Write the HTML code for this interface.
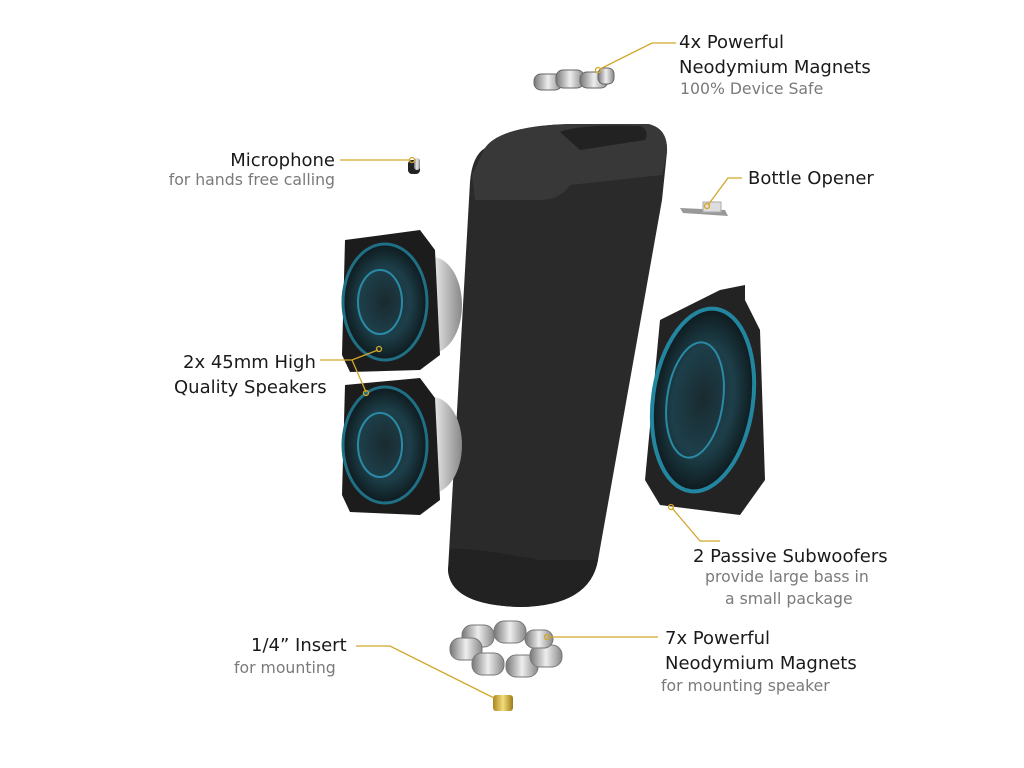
<!DOCTYPE html>
<html><head><meta charset="utf-8"><style>
body{margin:0;background:#fff;}
.wrap{position:relative;width:1024px;height:768px;overflow:hidden;font-family:"DejaVu Sans","Liberation Sans",sans-serif;}
.t{position:absolute;font-size:18px;color:#1a1a1a;white-space:nowrap;line-height:1;}
.g{color:#7a7a7a;font-size:15.7px;}
</style></head><body><div class="wrap">
<svg width="1024" height="768" style="position:absolute;left:0;top:0">
<defs>
<radialGradient id="cone" cx="50%" cy="50%" r="50%"><stop offset="0" stop-color="#1a2a30"/><stop offset="0.6" stop-color="#1d3f4a"/><stop offset="1" stop-color="#0e1a1e"/></radialGradient>
<linearGradient id="met" x1="0" x2="1"><stop offset="0" stop-color="#777"/><stop offset="0.5" stop-color="#eee"/><stop offset="1" stop-color="#888"/></linearGradient>
<linearGradient id="gold" x1="0" x2="1"><stop offset="0" stop-color="#a8871e"/><stop offset="0.5" stop-color="#f3dc7a"/><stop offset="1" stop-color="#9c7c18"/></linearGradient>
</defs>
<path d="M485,148 Q500,126 570,124 L648,124 Q668,128 667,152 L662,200 L598,560 Q590,606 520,607 Q450,605 448,570 L470,182 Q472,156 485,148 Z" fill="#2a2a2a"/>
<path d="M485,148 Q500,126 570,124 L648,124 Q668,128 667,152 L662,175 L570,185 Q560,200 540,200 L475,200 L472,175 Z" fill="#383838"/>
<path d="M560,132 Q580,124 640,126 Q650,130 645,140 L580,150 Z" fill="#222"/>
<path d="M450,550 Q460,545 540,560 L598,560 Q590,606 520,607 Q450,605 448,570 Z" fill="#222"/>
<g>
<ellipse cx="432" cy="305" rx="30" ry="48" fill="url(#met)"/>
<path d="M345,240 L420,230 L435,250 L440,355 L420,370 L350,372 L342,355 Z" fill="#1c1c1c"/>
<ellipse cx="385" cy="302" rx="42" ry="58" fill="url(#cone)" stroke="#1f6f85" stroke-width="3"/>
<ellipse cx="380" cy="302" rx="22" ry="32" fill="none" stroke="#2a8aa5" stroke-width="2"/>
<ellipse cx="432" cy="445" rx="30" ry="48" fill="url(#met)"/>
<path d="M345,385 L420,378 L435,398 L440,500 L420,515 L350,512 L342,495 Z" fill="#1c1c1c"/>
<ellipse cx="385" cy="445" rx="42" ry="58" fill="url(#cone)" stroke="#1f6f85" stroke-width="3"/>
<ellipse cx="380" cy="445" rx="22" ry="32" fill="none" stroke="#2a8aa5" stroke-width="2"/>
</g>
<path d="M720,290 L745,285 L745,300 L760,330 L765,480 L740,515 L660,505 L645,480 L660,320 Z" fill="#232323"/>
<ellipse cx="703" cy="400" rx="50" ry="92" transform="rotate(8 703 400)" fill="url(#cone)" stroke="#2386a0" stroke-width="4"/>
<ellipse cx="695" cy="400" rx="28" ry="58" transform="rotate(8 695 400)" fill="none" stroke="#2a8aa5" stroke-width="2"/>
<g fill="url(#met)" stroke="#666" stroke-width="1">
<rect x="534" y="74" width="28" height="16" rx="7"/><rect x="556" y="70" width="28" height="18" rx="7"/><rect x="580" y="72" width="28" height="16" rx="7"/><rect x="598" y="68" width="16" height="16" rx="6"/>
</g>
<rect x="408" y="160" width="12" height="14" rx="4" fill="#222"/><rect x="414" y="158" width="6" height="12" rx="3" fill="url(#met)"/>
<path d="M680,208 L725,210 L728,216 L683,213 Z" fill="#999"/><rect x="703" y="202" width="18" height="10" fill="#ddd" stroke="#aaa"/>
<g fill="url(#met)" stroke="#777" stroke-width="1">
<rect x="462" y="625" width="32" height="22" rx="10"/><rect x="494" y="621" width="32" height="22" rx="10"/><rect x="450" y="638" width="32" height="22" rx="10"/><rect x="472" y="653" width="32" height="22" rx="10"/><rect x="506" y="655" width="32" height="22" rx="10"/><rect x="530" y="645" width="32" height="22" rx="10"/><rect x="525" y="630" width="28" height="18" rx="9"/>
</g>
<rect x="493" y="695" width="20" height="16" rx="3" fill="url(#gold)"/>
<g fill="none" stroke="#d4a62a" stroke-width="1.3">
<polyline points="676,43 652,43 600,69"/><circle cx="598" cy="70" r="2.5"/>
<polyline points="742,178 728,178 708,205"/><circle cx="707" cy="206" r="2.5"/>
<polyline points="340,160 410,160"/><circle cx="412" cy="160" r="2.5"/>
<polyline points="320,360 352,360 378,350"/><polyline points="352,360 366,392"/><circle cx="379" cy="349" r="2.5"/><circle cx="366" cy="393" r="2.5"/>
<polyline points="720,541 700,541 672,508"/><circle cx="671" cy="507" r="2.5"/>
<polyline points="356,646 390,646 494,698"/>
<polyline points="658,637 550,637"/><circle cx="547" cy="637" r="2.5"/>
</g>
</svg>
<div class="t" style="left:679px;top:34px">4x Powerful</div>
<div class="t" style="left:679px;top:59px">Neodymium Magnets</div>
<div class="t g" style="left:680px;top:81px">100% Device Safe</div>
<div class="t" style="right:689px;top:152px">Microphone</div>
<div class="t g" style="right:689px;top:172px">for hands free calling</div>
<div class="t" style="left:748px;top:170px">Bottle Opener</div>
<div class="t" style="left:183px;top:354px">2x 45mm High</div>
<div class="t" style="left:174px;top:379px">Quality Speakers</div>
<div class="t" style="left:693px;top:548px">2 Passive Subwoofers</div>
<div class="t g" style="left:705px;top:569px">provide large bass in</div>
<div class="t g" style="left:725px;top:591px">a small package</div>
<div class="t" style="left:251px;top:637px">1/4” Insert</div>
<div class="t g" style="left:234px;top:660px">for mounting</div>
<div class="t" style="left:665px;top:630px">7x Powerful</div>
<div class="t" style="left:665px;top:655px">Neodymium Magnets</div>
<div class="t g" style="left:661px;top:678px">for mounting speaker</div>
</div></body></html>
